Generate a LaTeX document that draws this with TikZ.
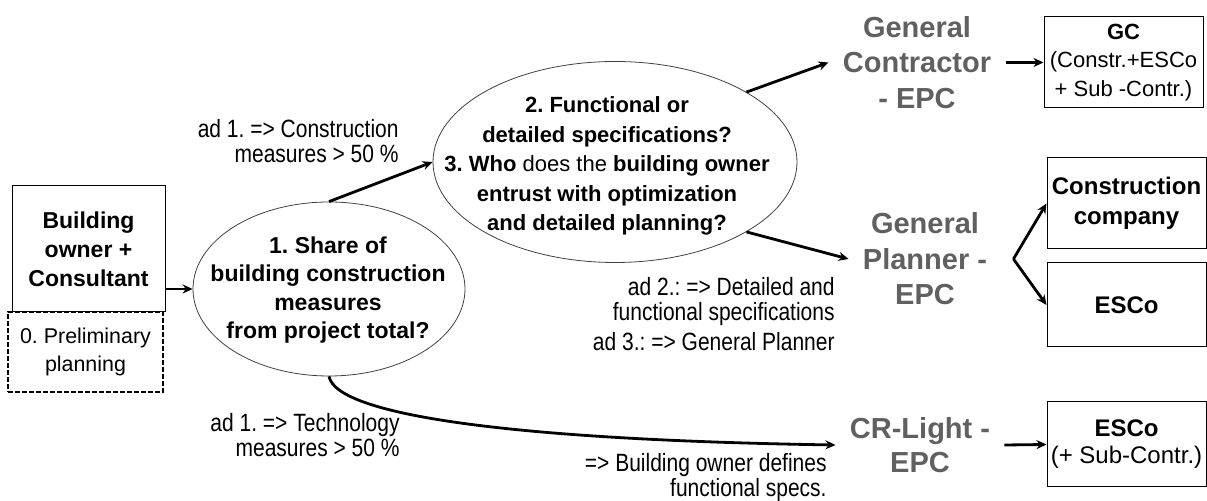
\documentclass[tikz,border=0pt]{standalone}
\usepackage{fontspec}
\setmainfont{Liberation Sans}
\newfontfamily\narrowfont[FakeStretch=0.84]{Liberation Sans}
\usetikzlibrary{arrows.meta,shapes.geometric}
\definecolor{epcgray}{RGB}{96,96,96}
\frenchspacing
\begin{document}
\begin{tikzpicture}[x=0.5pt,y=-0.5pt]
%\tikzset{flow/.style={double,-Stealth}}
\tikzset{flow/.style={line width=1.4pt,-{Stealth[length=5pt,width=4.5pt]}}}
\tikzset{question/.style={draw=black!75,line width=0.4pt,ellipse,inner sep=0pt}}
\tikzset{qtext/.style={font=\bfseries\fontsize{11.5}{14.25}\selectfont,align=center,inner sep=0pt}}
\tikzset{model/.style={font=\bfseries\fontsize{14.5}{17.8}\selectfont,text=epcgray,align=center,inner sep=7pt}}
\tikzset{firm/.style={draw,line width=0.5pt,minimum width=79.5pt,minimum height=45.5pt,inner sep=0pt,align=center,font=\fontsize{11}{14.25}\selectfont}}
\tikzset{note/.style={font=\narrowfont\fontsize{12.5}{12.5}\selectfont,align=right,inner sep=0pt,anchor=east}}
\useasboundingbox (0,0) rectangle (1207,501);
\node[firm,minimum width=76.5pt,minimum height=63pt,font=\bfseries\fontsize{11.5}{14.5}\selectfont] (owner) at (88.5,249) {Building\\owner +\\Consultant};
\node[firm,minimum width=77.5pt,minimum height=40pt,font=\fontsize{10.7}{14}\selectfont,
  line width=0.9pt,dash pattern=on 2.5pt off 1pt] (prelim) at (85.5,352) {0. Preliminary\\planning};
\node[question,minimum width=136pt,minimum height=87pt] (share) at (329,289) {};
\node[qtext] (sharetext) at (328,290) {1. Share of\\building construction\\measures\\from project total?};
\node[question,minimum width=182pt,minimum height=100.5pt] (spec) at (615,162) {};
\node[qtext,font=\bfseries\fontsize{11}{14.8}\selectfont] (spectext) at (607,166)
  {2. Functional or\\detailed specifications?\\3. Who \mdseries does the \bfseries building owner\\entrust with optimization\\and detailed planning?};
\node[model] (gcepc) at (917,62.5) {General\\Contractor\\- EPC};
\node[model] (gpepc) at (925,259) {General\\Planner -\\EPC};
\node[model,font=\bfseries\fontsize{14.5}{17}\selectfont] (crepc) at (920,445) {CR-Light -\\EPC};
\node[firm] (gc) at (1123.5,62.5) {\textbf{GC}\\(Constr.+ESCo\\+ Sub -Contr.)};
\node[firm,font=\bfseries\fontsize{12}{15}\selectfont] (constr) at (1126.5,203.5) {Construction\\company};
\node[firm,minimum height=42pt,font=\bfseries\fontsize{12}{15}\selectfont] (esco) at (1126.5,305) {ESCo};
\node[firm,minimum height=42.5pt,font=\fontsize{12}{13.5}\selectfont] (esco2) at (1126.5,444.5) {\textbf{ESCo}\\(+ Sub-Contr.)};
\node[note] (consnote) at (399,141.5) {ad 1. => Construction\\measures > 50 \%};
\node[note] (technote) at (400,435.5) {ad 1. => Technology\\measures > 50 \%};
\node[note] (specnote) at (835,314) {ad 2.: => Detailed and\\functional specifications\\[2.5pt]ad 3.: => General Planner};
\node[note] (ownernote) at (827,477.5) {=> Building owner defines\\functional specs.};
\coordinate (fork) at ([xshift=6pt]gpepc.east);
\draw[flow] (owner.east |- share.west) -- (share.west);
\draw[flow] (share.north) -- (spec.west);
\draw[flow] (spec.28) -- (gcepc.west);
\draw[flow] (gcepc.east) -- (gc.west);
\draw[flow] (spec.-28) -- (gpepc.west);
\draw[flow] (fork) -- (constr.west);
\draw[flow] (fork) -- (esco.west);
\draw[flow] (share.south) .. controls +(8,40) and +(-315,-5) .. (crepc.west);
\draw[flow] (crepc.east) -- (esco2.west);
\end{tikzpicture}
\end{document}
